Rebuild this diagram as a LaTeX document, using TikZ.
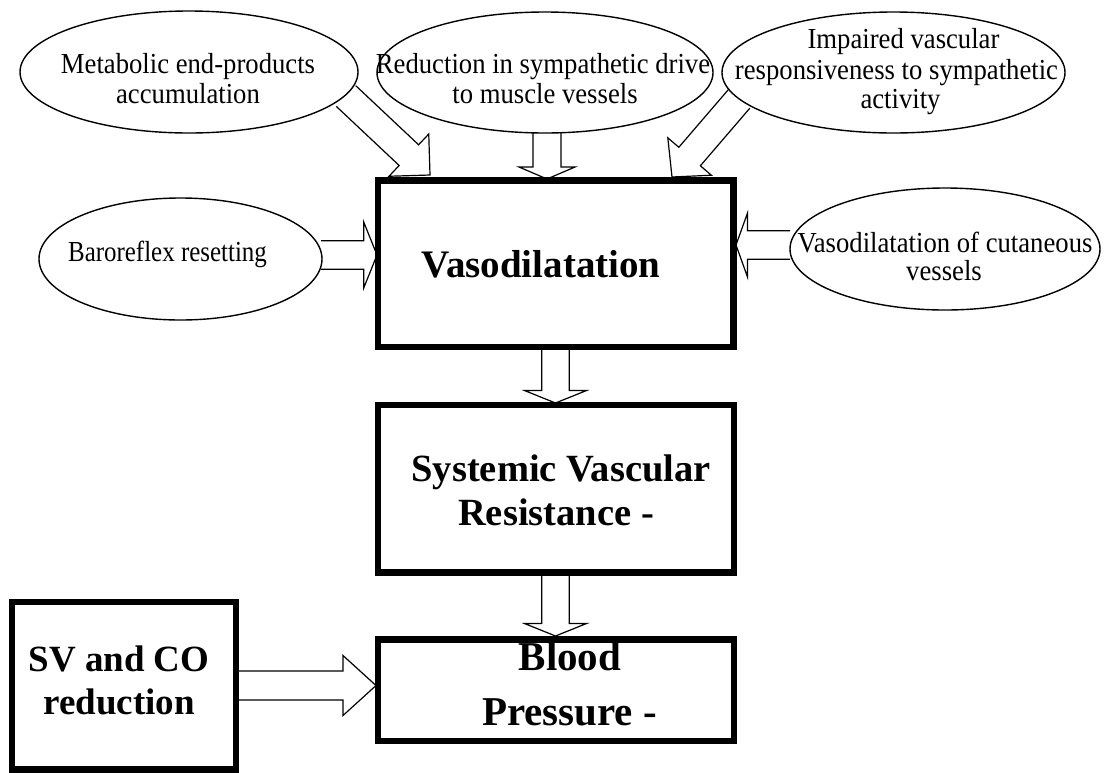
\documentclass[tikz,border=0pt]{standalone}
\usepackage{fontspec}
\setmainfont{Liberation Serif}
\newfontfamily\efont[FakeStretch=0.92]{Liberation Serif}
\newfontfamily\barofont[FakeStretch=0.86]{Liberation Serif}
\usetikzlibrary{shapes.geometric,calc}
\tikzset{
  oval/.style={draw, ellipse, line width=1.4pt, inner sep=0pt},
  thickbox/.style={draw, rectangle, line width=6.5pt, inner sep=0pt},
  etext/.style={anchor=base, inner sep=0pt, font=\efont\fontsize{29}{33}\selectfont},
  btext/.style={anchor=base, inner sep=0pt, font=\bfseries\fontsize{39}{43}\selectfont},
  arrowline/.style={draw, line width=1.2pt, line join=miter},
}
\newcommand{\blockarrow}[5]{%
  \coordinate (hb) at ($(#2)!#5!(#1)$);
  \draw[arrowline] ($(#1)!#3!90:(#2)$) -- ($(hb)!#3!90:(#2)$) -- ($(hb)!#4!90:(#2)$) -- (#2)
    -- ($(hb)!#4!-90:(#2)$) -- ($(hb)!#3!-90:(#2)$) -- ($(#1)!#3!-90:(#2)$);
}
\begin{document}
\begin{tikzpicture}[x=1pt,y=-1pt]
\useasboundingbox (0,0) rectangle (1111,772);

% ellipses
\node[oval, minimum width=338pt, minimum height=122pt] (m1) at (189,72) {};
\node[oval, minimum width=336pt, minimum height=121pt] (m2) at (545,72.5) {};
\node[oval, minimum width=343pt, minimum height=121pt] (m3) at (893.5,72.5) {};
\node[oval, minimum width=283pt, minimum height=122pt] (baro) at (180.5,259) {};
\node[oval, minimum width=310pt, minimum height=122pt] (cut) at (945,249) {};

% boxes
\node[thickbox, minimum width=355.5pt, minimum height=166.5pt] (vaso) at (555.75,263.75) {};
\node[thickbox, minimum width=356pt, minimum height=167.5pt] (svr) at (556,488.75) {};
\node[thickbox, minimum width=356pt, minimum height=101.5pt] (bp) at (556,690.25) {};
\node[thickbox, minimum width=224pt, minimum height=167.5pt] (sv) at (124,685.75) {};

% ellipse texts
\node[etext] (m1a) at (188,73) {Metabolic end-products};
\node[etext] (m1b) at (188,103) {accumulation};
\node[etext] (m2a) at (543,73) {Reduction in sympathetic drive};
\node[etext] (m2b) at (545,103) {to muscle vessels};
\node[etext] (m3a) at (903.5,48.5) {Impaired vascular};
\node[etext] (m3b) at (896.5,79) {responsiveness to sympathetic};
\node[etext] (m3c) at (900.5,108.5) {activity};
\node[etext, font=\barofont\fontsize{29}{33}\selectfont] (baroa) at (167.5,261.7) {Baroreflex resetting};
\node[etext] (cuta) at (945,252) {Vasodilatation of cutaneous};
\node[etext] (cutb) at (944,280) {vessels};

% box texts
\node[btext] (vasoa) at (541,277) {Vasodilatation};
\node[btext, font=\bfseries\fontsize{38.5}{43}\selectfont] (svra) at (561,481.7) {Systemic Vascular};
\node[btext, font=\bfseries\fontsize{38.5}{43}\selectfont] (svrb) at (556,525) {Resistance -};
\node[btext, font=\bfseries\fontsize{41}{45}\selectfont] (bpa) at (570,670) {Blood};
\node[btext, font=\bfseries\fontsize{41}{45}\selectfont] (bpb) at (569.5,725) {Pressure -};
\node[btext, font=\bfseries\fontsize{37}{43}\selectfont] (sva) at (119,671) {SV and CO};
\node[btext, font=\bfseries\fontsize{37}{43}\selectfont] (svb) at (119,714) {reduction};

% arrow end points
\coordinate (a1s) at (346,96);     \coordinate (a1e) at (430,175);
\coordinate (a2s) at (547,133);    \coordinate (a2e) at (547,179);
\coordinate (a3s) at (739,99);     \coordinate (a3e) at (672,177);
\coordinate (a4s) at (321,255);    \coordinate (a4e) at (377,255);
\coordinate (a5s) at (790,245);    \coordinate (a5e) at (736,245);
\coordinate (a6s) at (555.5,350);  \coordinate (a6e) at (555.5,403);
\coordinate (a7s) at (555.5,576);  \coordinate (a7e) at (555.5,636);
\coordinate (a8s) at (239,685.5);  \coordinate (a8e) at (376,685.5);

% block arrows: tail, tip, shaft half width, head half width, head length
\blockarrow{a1s}{a1e}{14.2pt}{29pt}{29pt}
\blockarrow{a2s}{a2e}{14pt}{28pt}{12pt}
\blockarrow{a3s}{a3e}{14.2pt}{28.7pt}{27pt}
\blockarrow{a4s}{a4e}{14.2pt}{33pt}{13.3pt}
\blockarrow{a5s}{a5e}{14.2pt}{32pt}{11.5pt}
\blockarrow{a6s}{a6e}{13.8pt}{31pt}{12.5pt}
\blockarrow{a7s}{a7e}{13.8pt}{31pt}{12.5pt}
\blockarrow{a8s}{a8e}{14.5pt}{30pt}{33pt}
\end{tikzpicture}
\end{document}
